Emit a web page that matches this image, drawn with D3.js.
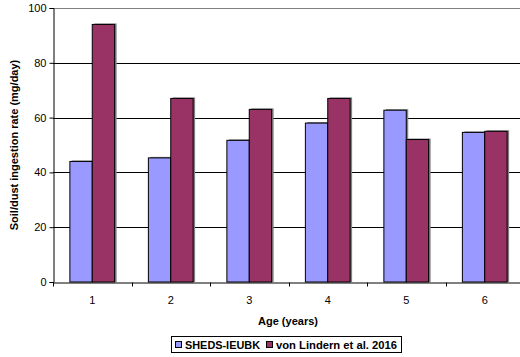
<!DOCTYPE html>
<html>
<head>
<meta charset="utf-8">
<script src="https://cdn.jsdelivr.net/npm/d3@7"></script>
<style>
  html, body { margin: 0; padding: 0; background: #fff; }
  svg { display: block; font-family: "Liberation Sans", Arial, sans-serif; }
</style>
</head>
<body>
<svg id="chart" width="520" height="357"></svg>
<script>
// Soil/dust ingestion rate by age, two estimates
const ages = ["1", "2", "3", "4", "5", "6"];
const seriesNames = ["SHEDS-IEUBK", "von Lindern et al. 2016"];
const shedsValues = [44, 45.3, 51.7, 58, 62.7, 54.6];
const vonLindernValues = [94, 67, 63, 67, 52, 55];
const yTicks = [0, 20, 40, 60, 80, 100];
const colors = ["#9999ff", "#993366"];

const svg = d3.select("#chart");
const margin = { left: 53, top: 8, right: 524, bottom: 282 };

const x = d3.scaleBand().domain(ages).range([margin.left, margin.right]).paddingInner(0).paddingOuter(0);
const y = d3.scaleLinear().domain([0, 100]).range([margin.bottom, margin.top]);
const groupWidth = x.bandwidth() * 0.57;
const xs = d3.scaleBand().domain(seriesNames).range([0, groupWidth]);

// Horizontal gridlines
svg.append("g").selectAll("line")
  .data(yTicks.filter(d => d > 0))
  .join("line")
  .attr("x1", margin.left).attr("x2", margin.right)
  .attr("y1", d => Math.round(y(d)) + 0.5).attr("y2", d => Math.round(y(d)) + 0.5)
  .attr("stroke", d => d === 100 ? "#808080" : "#000")
  .attr("stroke-width", 1);

const data = ages.map((a, i) => ({ age: a, values: [shedsValues[i], vonLindernValues[i]] }));

const groups = svg.append("g").selectAll("g")
  .data(data)
  .join("g")
  .attr("transform", d => `translate(${x(d.age) + (x.bandwidth() - groupWidth) / 2},0)`);

// Drop shadows behind bars
groups.selectAll("rect.shadow")
  .data(d => d.values.map((v, j) => ({ v, j })))
  .join("rect")
  .attr("class", "shadow")
  .attr("x", d => xs(seriesNames[d.j]) + 2)
  .attr("y", d => y(d.v) - 1)
  .attr("width", xs.bandwidth())
  .attr("height", d => y(0) - y(d.v) + 1)
  .attr("fill", "#808080");

groups.selectAll("rect.bar")
  .data(d => d.values.map((v, j) => ({ v, j })))
  .join("rect")
  .attr("class", "bar")
  .attr("x", d => xs(seriesNames[d.j]))
  .attr("y", d => y(d.v))
  .attr("width", xs.bandwidth())
  .attr("height", d => y(0) - y(d.v))
  .attr("fill", d => colors[d.j])
  .attr("stroke", "#000")
  .attr("stroke-width", 1);

// Axes
const yAxis = d3.axisLeft(y).tickValues(yTicks).tickSize(4).tickPadding(3);
const yg = svg.append("g").attr("transform", `translate(${margin.left + 0.5},0)`).call(yAxis);
yg.select(".domain").attr("stroke", "#000");
yg.selectAll("text").attr("font-size", 11).attr("fill", "#000");

const xAxis = d3.axisBottom(x).tickSize(0).tickPadding(14);
const xg = svg.append("g").attr("transform", `translate(0,${margin.bottom + 0.5})`).call(xAxis);
xg.select(".domain").attr("stroke", "#000");
xg.selectAll("text").attr("font-size", 11).attr("fill", "#000");
// Category separator ticks
xg.append("g").selectAll("line")
  .data(ages)
  .join("line")
  .attr("x1", d => Math.round(x(d)) + 0.5).attr("x2", d => Math.round(x(d)) + 0.5)
  .attr("y1", 0).attr("y2", 4)
  .attr("stroke", "#000");

// Axis titles
svg.append("text")
  .attr("x", 288).attr("y", 325)
  .attr("text-anchor", "middle")
  .attr("font-size", 11).attr("font-weight", "bold")
  .text("Age (years)");

svg.append("text")
  .attr("transform", "translate(18,145) rotate(-90)")
  .attr("text-anchor", "middle")
  .attr("font-size", 11).attr("font-weight", "bold")
  .text("Soil/dust ingestion rate (mg/day)");

// Legend
const legend = svg.append("g");
legend.append("rect")
  .attr("x", 171.5).attr("y", 336.5).attr("width", 230).attr("height", 16)
  .attr("fill", "#fff").attr("stroke", "#000");
const legendX = [175, 266];
seriesNames.forEach((name, i) => {
  legend.append("rect")
    .attr("x", legendX[i] + 0.5).attr("y", 341.5).attr("width", 6).attr("height", 6)
    .attr("fill", colors[i]).attr("stroke", "#000");
  legend.append("text")
    .attr("x", legendX[i] + 10).attr("y", 348.5)
    .attr("font-size", 11).attr("font-weight", "bold")
    .attr("textLength", i === 0 ? 75 : 121)
    .attr("lengthAdjust", "spacingAndGlyphs")
    .text(name);
});
</script>
</body>
</html>
